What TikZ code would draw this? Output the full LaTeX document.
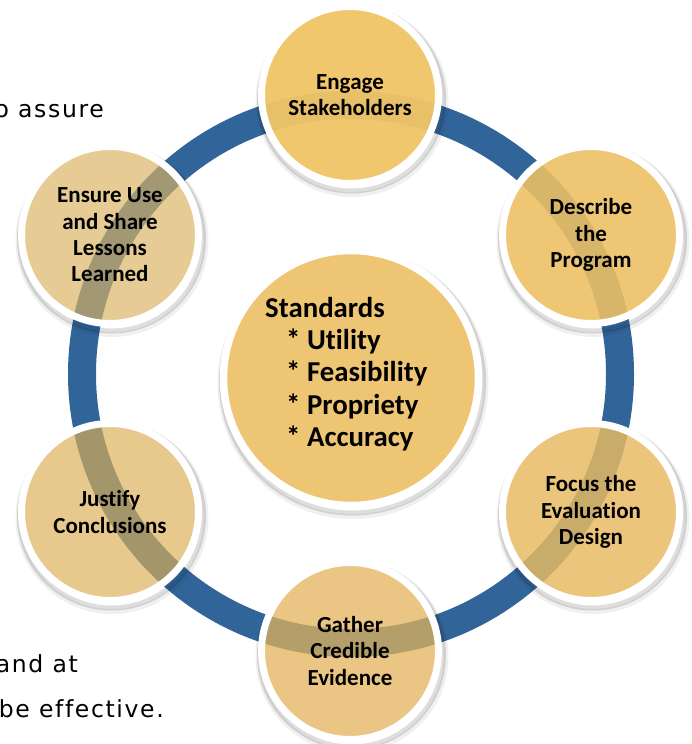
\documentclass[tikz,border=0pt]{standalone}
\usepackage{fontspec}
\setmainfont[Ligatures=NoCommon]{Carlito}
\newfontfamily\slidefont[LetterSpace=7,Ligatures=NoCommon]{DejaVu Sans}
\definecolor{ringblue}{RGB}{49,101,154}
\definecolor{fEng}{RGB}{241,197,103}
\definecolor{fDes}{RGB}{237,192,99}
\definecolor{fFoc}{RGB}{232,186,97}
\definecolor{fGat}{RGB}{227,178,89}
\definecolor{fJus}{RGB}{220,175,84}
\definecolor{fEns}{RGB}{218,179,99}
\definecolor{fCen}{RGB}{238,197,114}
\begin{document}
\begin{tikzpicture}[x=1pt,y=-1pt,
  stepnode/.style={circle, minimum size=177pt, inner sep=0pt, draw=white, line width=7pt,
    align=center, text opacity=1, text=black,
    font=\bfseries\fontsize{23}{26.3}\selectfont},
  centernode/.style={circle, minimum size=255pt, inner sep=0pt, draw=white, line width=7.5pt, fill=fCen},
  stdtext/.style={anchor=west, inner sep=0pt, align=left, text=black,
    font=\bfseries\fontsize{28.8}{32.2}\selectfont},
  shadowline/.style={draw=black, draw opacity=0.13, line width=5pt},
  shadowline2/.style={draw=black, draw opacity=0.06, line width=5pt},
  ringline/.style={draw=ringblue, line width=28pt},
  slidetext/.style={anchor=base east, inner sep=0pt, text=black,
    font=\slidefont\fontsize{23.5}{28}\selectfont}
]
\fill[white] (0,0) rectangle (692,744);
\useasboundingbox (0,0) rectangle (692,744);

% slide text fragments
\node[slidetext] (t1) at (104,117) {o assure};
\node[slidetext] (t2) at (78,672) {and at};
\node[slidetext] (t3) at (164,717) {be effective.};

% centres
\coordinate (ctr) at (351,374);
\coordinate (pEng) at (350,95);
\coordinate (pDes) at (591,235);
\coordinate (pFoc) at (591,512);
\coordinate (pGat) at (350,651);
\coordinate (pJus) at (110,512);
\coordinate (pEns) at (110,235);
\coordinate (pCen) at (351,378);

% ring
\draw[ringline] (ctr) circle[radius=269pt];

% shadows
\foreach \p/\r in {pEng/92,pDes/92,pFoc/92,pGat/92,pJus/92,pEns/92,pCen/131}{
  \draw[shadowline] ([shift={(1.5,4)}]\p) circle[radius=\r pt];
  \draw[shadowline2] ([shift={(2,5.5)}]\p) circle[radius=\r pt+2pt];
}

% step circles
\node[stepnode, fill=fEng, fill opacity=0.95] (eng) at (pEng) {Engage\\Stakeholders};
\node[stepnode, fill=fDes, fill opacity=0.89] (des) at (pDes) {Describe\\the\\Program};
\node[stepnode, fill=fFoc, fill opacity=0.83] (foc) at (pFoc) {Focus the\\Evaluation\\Design};
\node[stepnode, fill=fGat, fill opacity=0.74] (gat) at (pGat) {Gather\\Credible\\Evidence};
\node[stepnode, fill=fJus, fill opacity=0.665] (jus) at (pJus) {Justify\\Conclusions};
\node[stepnode, fill=fEns, fill opacity=0.675] (ens) at (pEns) {Ensure Use\\and Share\\Lessons\\Learned};

% centre
\node[centernode] (cen) at (pCen) {};
\node[stdtext] (std) at (265,374) {Standards\\\hspace*{21pt}* Utility\\\hspace*{21pt}* Feasibility\\\hspace*{21pt}* Propriety\\\hspace*{21pt}* Accuracy};
\end{tikzpicture}
\end{document}
